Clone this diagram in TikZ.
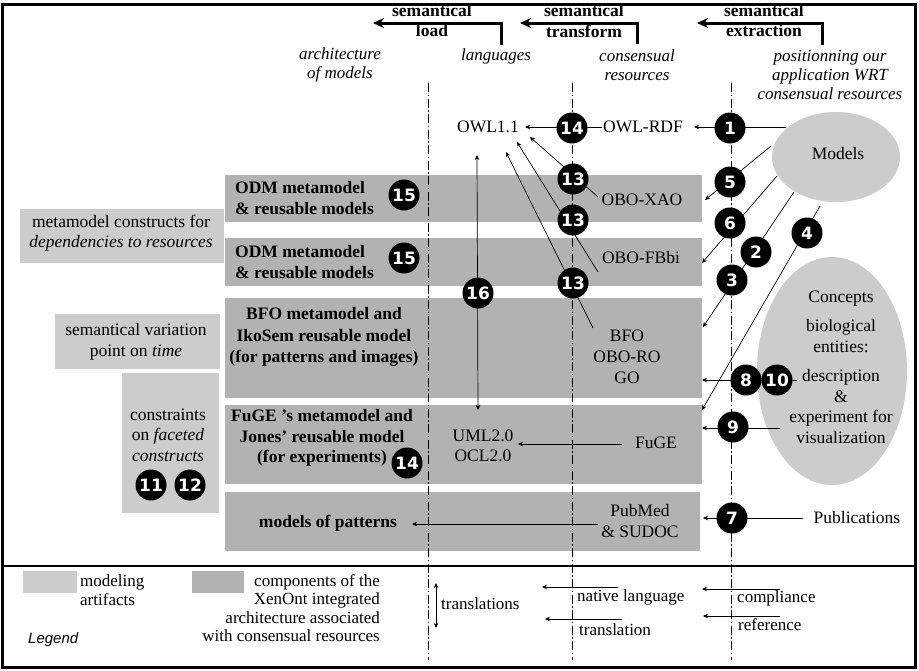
\documentclass[tikz,border=0pt]{standalone}
\usepackage{fontspec}
\setmainfont{Liberation Serif}
\newfontfamily\numfont{DejaVu Sans}
\newfontfamily\legendfont{Liberation Sans}
\usetikzlibrary{arrows.meta,shapes.geometric}
\definecolor{boxdark}{gray}{0.70}
\definecolor{boxlight}{gray}{0.80}
\begin{document}
\begin{tikzpicture}[x=1pt,y=-1pt,
  txt/.style={font=\fontsize{17.5}{20.5}\selectfont, align=center, inner sep=1pt},
  btxt/.style={font=\fontsize{17.5}{20.5}\selectfont\bfseries, align=center, inner sep=1pt},
  itxt/.style={font=\fontsize{17}{19}\selectfont\itshape, align=center, inner sep=1pt},
  darkbox/.style={fill=boxdark, inner sep=0pt, anchor=north west},
  lightbox/.style={fill=boxlight, inner sep=0pt, anchor=north west},
  num/.style={circle, fill=black, minimum size=31pt, inner sep=0pt, text=white,
              font=\fontsize{17}{17}\numfont\bfseries},
  conn/.style={line width=0.7pt, -{Stealth[length=5pt,width=4.5pt]}},
  twoway/.style={line width=0.7pt, {Stealth[length=5pt,width=4.5pt]}-{Stealth[length=5pt,width=4.5pt]}},
  flow/.style={line width=3pt, -{Stealth[length=11pt,width=10pt]}},
  axis/.style={line width=0.7pt, dash pattern=on 9pt off 2.5pt on 1.5pt off 2.5pt},
]
\useasboundingbox (0,0) rectangle (919,670);

% frame and legend separator
\draw[line width=3pt] (2.5,4) rectangle (915,667);
\draw[line width=1.2pt] (3,566) -- (915,566);

% architecture rows
\node[darkbox, minimum width=477pt, minimum height=47pt] (row1) at (225,175) {};
\node[darkbox, minimum width=477pt, minimum height=48pt] (row2) at (225,238) {};
\node[darkbox, minimum width=477pt, minimum height=100pt] (row3) at (225,298) {};
\node[darkbox, minimum width=477pt, minimum height=79pt] (row4) at (225,405) {};
\node[darkbox, minimum width=475pt, minimum height=59pt] (row5) at (225,492) {};

% modeling artifacts on the left
\node[lightbox, minimum width=204pt, minimum height=54pt] (artA) at (20,209) {};
\node[lightbox, minimum width=165pt, minimum height=55pt] (artB) at (55,314) {};
\node[lightbox, minimum width=97pt, minimum height=140pt] (artC) at (122,373) {};

% ellipses
\node[ellipse, fill=boxlight, minimum width=128pt, minimum height=90pt, inner sep=0pt] (models) at (836,157) {};
\node[ellipse, fill=boxlight, minimum width=150pt, minimum height=228pt, inner sep=0pt] (concepts) at (832,371) {};

% column separators
\draw[axis] (428,83) -- (428,660);
\draw[axis] (572,83) -- (572,660);
\draw[axis] (731,83) -- (731,660);

% header arrows
\coordinate (ld0) at (501,45); \coordinate (ld1) at (373,23);
\coordinate (tr0) at (637,44); \coordinate (tr1) at (520,23);
\coordinate (ex0) at (822,45); \coordinate (ex1) at (697,23);
\draw[flow] (ld0) |- (ld1);
\draw[flow] (tr0) |- (tr1);
\draw[flow] (ex0) |- (ex1);
\node[btxt] (hld1) at (432,11) {semantical};
\node[btxt] (hld2) at (432,31) {load};
\node[btxt] (htr1) at (584,11) {semantical};
\node[btxt] (htr2) at (584,31) {transform};
\node[btxt] (hex1) at (764,11) {semantical};
\node[btxt] (hex2) at (764,31) {extraction};

% column titles
\node[itxt] (colA) at (340,65) {architecture\\of models};
\node[itxt] (colL) at (496,56) {languages};
\node[itxt] (colR) at (637,65) {consensual\\resources};
\node[itxt] (colP) at (830,75) {positionning our\\application WRT\\consensual resources};

% row labels
\node[btxt, align=left, anchor=west] (t1) at (234,198) {ODM metamodel\\\& reusable models};
\node[btxt, align=left, anchor=west] (t2) at (234,262) {ODM metamodel\\\& reusable models};
\node[btxt, font=\fontsize{17.5}{21.5}\selectfont\bfseries] (t3) at (324,337) {BFO metamodel and\\IkoSem reusable model\\(for patterns and images)};
\node[btxt] (t4) at (322,438) {FuGE 's metamodel and\\Jones' reusable model\\(for experiments)};
\node[btxt] (t5) at (328,523) {models of patterns};

% artifact labels
\node[txt] (lA) at (121,233) {metamodel constructs for\\\textit{dependencies to resources}};
\node[txt] (lB) at (136,342) {semantical variation\\point on \textit{time}};
\node[txt] (lC) at (168,435) {constraints\\on \textit{faceted}\\\textit{constructs}};

% languages and resources
\node[txt, inner xsep=6pt] (owl11) at (488,127) {OWL1.1};
\node[txt] (owlrdf) at (643,127) {OWL-RDF};
\node[txt] (xao) at (642,200) {OBO-XAO};
\node[txt] (fbbi) at (641,258) {OBO-FBbi};
\node[txt, font=\fontsize{17.5}{21}\selectfont] (bfo) at (627,357) {BFO\\OBO-RO\\GO};
\node[txt] (uml) at (483,446) {UML2.0\\OCL2.0};
\node[txt] (fuge) at (656,443) {FuGE};
\node[txt] (pubmed) at (640,521) {PubMed\\\& SUDOC};
\node[txt] (pubs) at (857,518) {Publications};
\node[txt] (mtxt) at (838,154) {Models};
\node[txt] (ctxt) at (841,367) {Concepts\\[9pt]biological\\entities:\\[9pt]description\\\&\\experiment for\\visualization};

% end points of connectors
\coordinate (m1) at (786,127);   \coordinate (r1) at (694,127);
\coordinate (s13a) at (598,197); \coordinate (e13a) at (530,137);
\coordinate (s13b) at (598,272); \coordinate (e13b) at (517,142);
\coordinate (s13c) at (593,328); \coordinate (e13c) at (506,152);
\coordinate (u16) at (477,155);  \coordinate (d16) at (478,410);
\coordinate (m5) at (771,146);   \coordinate (e5) at (705,200);
\coordinate (m6) at (777,176);   \coordinate (e6) at (702,263);
\coordinate (m2) at (794,192);   \coordinate (e2) at (703,327);
\coordinate (m4) at (820,206);   \coordinate (e4) at (702,410);
\coordinate (c8) at (797,380);   \coordinate (e8) at (702,380);
\coordinate (c9) at (780,428);   \coordinate (e9) at (702,428);
\coordinate (p7) at (803,518);   \coordinate (e7) at (703,518);
\coordinate (sf) at (622,444);   \coordinate (ef) at (518,444);
\coordinate (sp) at (598,524);   \coordinate (ep) at (412,524);

% connectors
\draw[conn] (owlrdf.west) -- (owl11.east);
\draw[conn] (m1) -- (r1);
\draw[conn] (s13a) -- (e13a);
\draw[conn] (s13b) -- (e13b);
\draw[conn] (s13c) -- (e13c);
\draw[twoway] (u16) -- (d16);
\draw[conn] (m5) -- (e5);
\draw[conn] (m6) -- (e6);
\draw[conn] (m2) -- (e2);
\draw[conn] (m4) -- (e4);
\draw[conn] (c8) -- (e8);
\draw[conn] (c9) -- (e9);
\draw[conn] (p7) -- (e7);
\draw[conn] (sf) -- (ef);
\draw[conn] (sp) -- (ep);

% numbered steps
\node[num] (n1) at (730,128) {1};
\node[num] (n14a) at (572,128) {14};
\node[num] (n13a) at (573,179) {13};
\node[num] (n13b) at (573,220) {13};
\node[num] (n13c) at (573,283) {13};
\node[num] (n16) at (478,293) {16};
\node[num] (n15a) at (404,195) {15};
\node[num] (n15b) at (404,258) {15};
\node[num] (n14b) at (407,463) {14};
\node[num] (n11) at (151,485) {11};
\node[num] (n12) at (190,485) {12};
\node[num] (n5) at (730,182) {5};
\node[num] (n6) at (730,223) {6};
\node[num] (n2) at (756,252) {2};
\node[num] (n3) at (732,280) {3};
\node[num] (n4) at (807,233) {4};
\node[num] (n8) at (746,380) {8};
\node[num] (n10) at (777,380) {10};
\node[num] (n9) at (733,427) {9};
\node[num] (n7) at (732,518) {7};

% legend
\node[lightbox, minimum width=54pt, minimum height=22pt] (swl) at (23,571) {};
\node[darkbox, minimum width=52pt, minimum height=22pt] (swd) at (192,571) {};
\node[txt, align=left, anchor=north west, font=\fontsize{17}{19}\selectfont] (lgl) at (79,573) {modeling\\artifacts};
\node[txt, align=right, anchor=north east, font=\fontsize{17}{18.5}\selectfont] (lgd) at (381,573) {components of the\\XenOnt integrated\\architecture associated\\with consensual resources};
\node[anchor=west, inner sep=0pt, font=\fontsize{15}{15}\legendfont\itshape] (lgt) at (28,640) {Legend};

\coordinate (tu) at (436,583); \coordinate (td) at (436,628);
\draw[twoway] (tu) -- (td);
\node[txt, anchor=west, font=\fontsize{17}{19}\selectfont] (ltr) at (440,604) {translations};

\coordinate (nl0) at (618,587); \coordinate (nl1) at (542,587);
\coordinate (tl0) at (622,619); \coordinate (tl1) at (545,619);
\coordinate (cp0) at (780,589); \coordinate (cp1) at (702,589);
\coordinate (rf0) at (780,616); \coordinate (rf1) at (703,616);
\draw[conn] (nl0) -- (nl1);
\draw[conn] (tl0) -- (tl1);
\draw[conn] (cp0) -- (cp1);
\draw[conn] (rf0) -- (rf1);
\node[txt, anchor=west, font=\fontsize{17}{19}\selectfont] (lnl) at (576,597) {native language};
\node[txt, anchor=west, font=\fontsize{17}{19}\selectfont] (ltl) at (578,630) {translation};
\node[txt, anchor=west, font=\fontsize{17}{19}\selectfont] (lcp) at (736,598) {compliance};
\node[txt, anchor=west, font=\fontsize{17}{19}\selectfont] (lrf) at (737,625) {reference};
\end{tikzpicture}
\end{document}
